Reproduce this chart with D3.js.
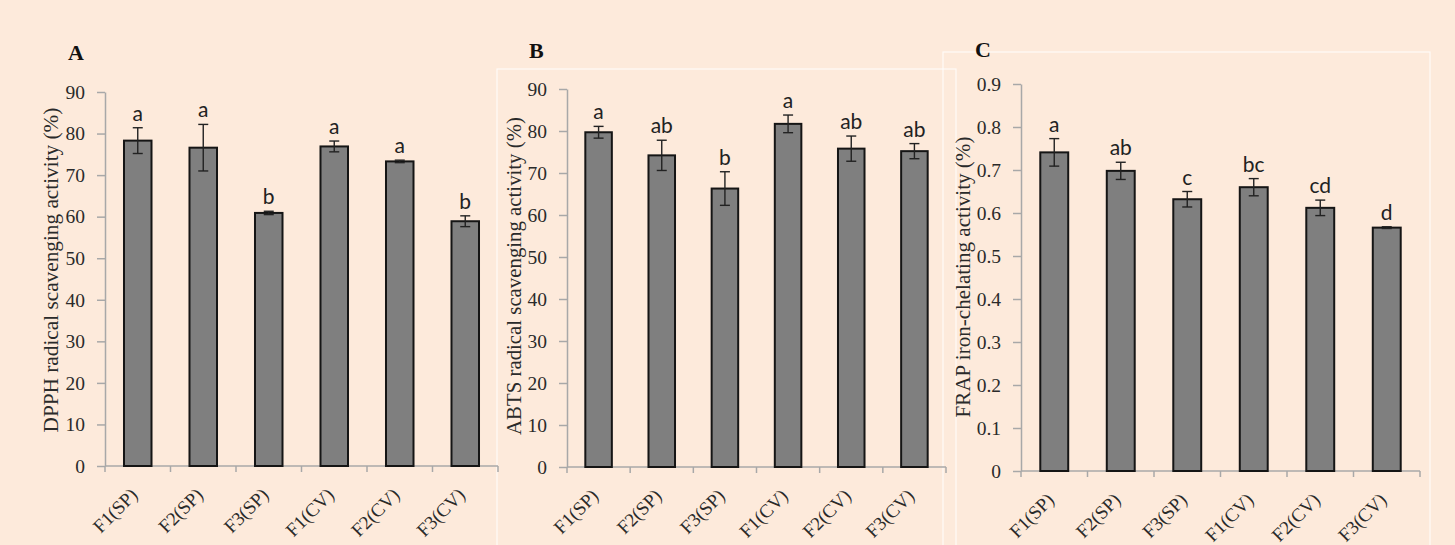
<!DOCTYPE html>
<html><head><meta charset="utf-8">
<script src="https://cdn.jsdelivr.net/npm/d3@7"></script>
<style>
html,body{margin:0;padding:0;background:#fdeadb;}
svg{display:block;}
</style></head>
<body>
<svg id="chart" width="1455" height="545"></svg>
<script>
const categories = ["F1(SP)","F2(SP)","F3(SP)","F1(CV)","F2(CV)","F3(CV)"];

const dpphMeans = [78.3, 76.6, 60.9, 76.9, 73.3, 58.9];
const dpphErrors = [3.1, 5.6, 0.4, 1.3, 0.3, 1.3];
const dpphLetters = ["a","a","b","a","a","b"];
const dpphTicks = [0,10,20,30,40,50,60,70,80,90];

const abtsMeans = [79.7, 74.2, 66.3, 81.7, 75.8, 75.2];
const abtsErrors = [1.4, 3.6, 4.0, 2.1, 3.0, 1.8];
const abtsLetters = ["a","ab","b","a","ab","ab"];
const abtsTicks = [0,10,20,30,40,50,60,70,80,90];

const frapMeans = [0.741, 0.698, 0.632, 0.660, 0.612, 0.566];
const frapErrors = [0.032, 0.020, 0.018, 0.020, 0.018, 0.002];
const frapLetters = ["a","ab","c","bc","cd","d"];
const frapTicks = [0,0.1,0.2,0.3,0.4,0.5,0.6,0.7,0.8,0.9];

const svg = d3.select("#chart");
svg.append("rect").attr("width",1455).attr("height",545).attr("fill","#fdeadb");

// faint white panel frames
svg.append("rect").attr("x",497).attr("y",69).attr("width",459).attr("height",500)
  .attr("fill","none").attr("stroke","#ffffff").attr("stroke-opacity",0.8).attr("stroke-width",1.2);
svg.append("rect").attr("x",943).attr("y",52).attr("width",487).attr("height",520)
  .attr("fill","none").attr("stroke","#ffffff").attr("stroke-opacity",0.8).attr("stroke-width",1.2);

const panels = [
  {letter:"A", means:dpphMeans, errs:dpphErrors, sig:dpphLetters, ticks:dpphTicks, max:90,
   title:"DPPH radical scavenging activity (%)", x0:105, x1:498, y0:466, y1:92,
   lx:68, ly:60, tx:51, ty:270, tlen:325, fmt:d3.format("d")},
  {letter:"B", means:abtsMeans, errs:abtsErrors, sig:abtsLetters, ticks:abtsTicks, max:90,
   title:"ABTS radical scavenging activity (%)", x0:567, x1:946, y0:467, y1:89,
   lx:529, ly:58, tx:514, ty:276, tlen:318, fmt:d3.format("d")},
  {letter:"C", means:frapMeans, errs:frapErrors, sig:frapLetters, ticks:frapTicks, max:0.9,
   title:"FRAP iron-chelating activity (%)", x0:1021, x1:1420, y0:471, y1:84,
   lx:975, ly:57, tx:963, ty:277, tlen:281, fmt:d => d===0 ? "0" : d3.format(".1f")(d)}
];

const axisColor = "#a8a8a8";
const serif = "'Liberation Serif', 'Times New Roman', serif";

panels.forEach(p => {
  const g = svg.append("g");
  const x = d3.scaleBand().domain(categories).range([p.x0, p.x1]).padding(0);
  const y = d3.scaleLinear().domain([0, p.max]).range([p.y0, p.y1]);

  // y axis
  const ya = g.append("g").attr("transform",`translate(${p.x0},0)`)
    .call(d3.axisLeft(y).tickValues(p.ticks).tickFormat(p.fmt).tickSizeInner(8).tickSizeOuter(0).tickPadding(12));
  ya.select(".domain").attr("stroke",axisColor).attr("stroke-width",1.5);
  ya.selectAll(".tick line").attr("stroke",axisColor).attr("stroke-width",1.5);
  ya.selectAll(".tick text").attr("font-family",serif).attr("font-size",19.5).attr("fill","#2a2a2a");

  // x axis line with boundary ticks
  g.append("line").attr("x1",p.x0).attr("x2",p.x1).attr("y1",p.y0).attr("y2",p.y0)
    .attr("stroke",axisColor).attr("stroke-width",1.5);
  const edges = categories.map(c => x(c)).concat([p.x1]);
  g.selectAll(".xt").data(edges).join("line")
    .attr("x1",d=>d).attr("x2",d=>d).attr("y1",p.y0).attr("y2",p.y0+6)
    .attr("stroke",axisColor).attr("stroke-width",1.5);

  // x labels
  g.selectAll(".xl").data(categories).join("text")
    .attr("transform",c=>`translate(${x(c)+x.bandwidth()/2+1},${p.y0+30}) rotate(-45)`)
    .attr("text-anchor","end").attr("font-family",serif).attr("font-size",19).attr("fill","#2a2a2a")
    .text(c=>c);

  // bars
  const bw = x.bandwidth()*0.42;
  const data = categories.map((c,i)=>({c, m:p.means[i], e:p.errs[i], s:p.sig[i]}));
  g.selectAll(".bar").data(data).join("rect")
    .attr("x",d=>x(d.c)+x.bandwidth()/2-bw/2).attr("width",bw)
    .attr("y",d=>y(d.m)).attr("height",d=>y(0)-y(d.m))
    .attr("fill","#7f7f7f").attr("stroke","#151515").attr("stroke-width",2);

  // error bars
  const eg = g.selectAll(".err").data(data).join("g").attr("stroke","#222").attr("stroke-width",1.4);
  eg.append("line").attr("x1",d=>x(d.c)+x.bandwidth()/2).attr("x2",d=>x(d.c)+x.bandwidth()/2)
    .attr("y1",d=>y(d.m+d.e)).attr("y2",d=>y(d.m-d.e));
  eg.append("line").attr("x1",d=>x(d.c)+x.bandwidth()/2-5).attr("x2",d=>x(d.c)+x.bandwidth()/2+5)
    .attr("y1",d=>y(d.m+d.e)).attr("y2",d=>y(d.m+d.e));
  eg.append("line").attr("x1",d=>x(d.c)+x.bandwidth()/2-5).attr("x2",d=>x(d.c)+x.bandwidth()/2+5)
    .attr("y1",d=>y(d.m-d.e)).attr("y2",d=>y(d.m-d.e));

  // significance letters
  g.selectAll(".sig").data(data).join("text")
    .attr("x",d=>x(d.c)+x.bandwidth()/2).attr("y",d=>y(d.m+d.e)-7)
    .attr("text-anchor","middle").attr("font-family","Lato, 'Open Sans', sans-serif")
    .attr("font-size",21).attr("fill","#222").text(d=>d.s);

  // axis title
  const t = g.append("text")
    .attr("transform",`translate(${p.tx},${p.ty}) rotate(-90)`)
    .attr("text-anchor","middle").attr("dominant-baseline","central")
    .attr("font-family",serif).attr("font-size",18).attr("fill","#2a2a2a").text(p.title);
  const len = t.node().getComputedTextLength();
  t.attr("font-size", 18*p.tlen/len);

  // panel letter
  g.append("text").attr("x",p.lx).attr("y",p.ly).attr("font-family",serif)
    .attr("font-weight","bold").attr("font-size",22).attr("fill","#111").text(p.letter);
});
</script>
</body></html>
